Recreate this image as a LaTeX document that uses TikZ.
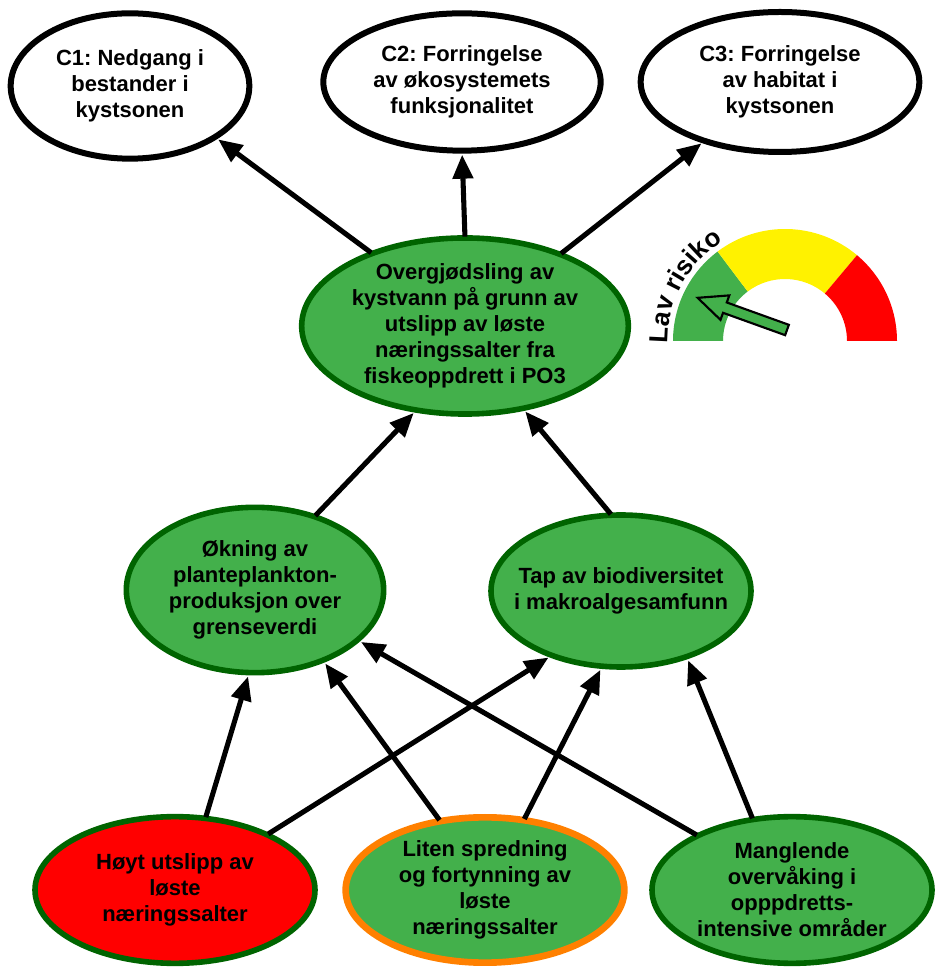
\documentclass[tikz,border=0pt]{standalone}
\usepackage{fontspec}
\setmainfont{Liberation Sans}
\usetikzlibrary{shapes.geometric,arrows.meta,decorations.text,calc}
\definecolor{ngreen}{RGB}{67,176,75}
\definecolor{dgreen}{RGB}{0,100,0}
\definecolor{nred}{RGB}{255,0,0}
\definecolor{norange}{RGB}{255,128,0}
\definecolor{gyellow}{RGB}{255,242,0}
\frenchspacing
\begin{document}
\begin{tikzpicture}[x=0.75pt,y=0.75pt,
  txt/.style={font=\fontsize{16.5}{19.5}\selectfont\bfseries, align=center},
  oval/.style={ellipse, txt, inner sep=0pt, outer sep=0pt, line width=4.2pt},
  topoval/.style={oval, draw=black, fill=white, line width=4.5pt},
  goval/.style={oval, draw=dgreen, fill=ngreen},
  arr/.style={line width=3.8pt, -{Triangle[length=18pt,width=15pt]}, shorten >=3pt, shorten <=1pt}]
\useasboundingbox (0,0) rectangle (940,979);

% top consequences
\node[topoval, minimum width=179pt, minimum height=109pt] (C1) at (130,893) {C1: Nedgang i\\bestander i\\kystsonen};
\node[topoval, minimum width=208pt, minimum height=103pt] (C2) at (462,897) {C2: Forringelse\\av økosystemets\\funksjonalitet};
\node[topoval, minimum width=209pt, minimum height=105pt] (C3) at (780,897) {C3: Forringelse\\av habitat i\\kystsonen};

% main event
\node[goval, minimum width=245pt, minimum height=122pt] (M) at (465,653) {Overgjødsling av\\kystvann på grunn av\\utslipp av løste\\næringssalter fra\\fiskeoppdrett i PO3};

% middle
\node[goval, minimum width=193pt, minimum height=124pt] (A) at (255,389) {Økning av\\planteplankton-\\produksjon over\\grenseverdi};
\node[goval, inner xsep=-12pt, minimum width=195pt, minimum height=114pt] (B) at (621,388) {Tap av biodiversitet\\i makroalgesamfunn};

% bottom causes
\node[oval, draw=dgreen, fill=nred, minimum width=210pt, minimum height=110pt] (D1) at (175,89) {Høyt utslipp av\\løste\\næringssalter};
\node[oval, draw=norange, fill=ngreen, line width=5pt, minimum width=209pt, minimum height=109pt] (D2) at (485,89) {Liten spredning\\og fortynning av\\løste\\næringssalter};
\node[goval, minimum width=210pt, minimum height=110pt] (D3) at (792,89) {Manglende\\overvåking i\\opppdretts-\\intensive områder};

% connectors
\draw[arr] (M.142.8) -- (C1.-31.4);
\draw[arr] (M.90) -- (C2.-90);
\draw[arr] (M.37.2) -- (C3.-142.9);
\draw[arr] (A.51.5) -- (M.-120.3);
\draw[arr] (B.97.4) -- (M.-55.3);
\draw[arr] (D1.67.1) -- (A.-94.4);
\draw[arr] (D1.31) -- (B.-137.2);
\draw[arr] (D2.123.7) -- (A.-46.6);
\draw[arr] (D2.61.9) -- (B.-104.4);
\draw[arr] (D3.150.4) -- (A.-26.1);
\draw[arr] (D3.119.2) -- (B.-45.4);

% risk gauge
\coordinate (G) at (785,638);
\fill[ngreen] ($(G)+(180:84pt)$) arc[start angle=180,end angle=127,radius=84pt] -- ($(G)+(127:46.5pt)$) arc[start angle=127,end angle=180,radius=46.5pt] -- cycle;
\fill[gyellow] ($(G)+(127:84pt)$) arc[start angle=127,end angle=50,radius=84pt] -- ($(G)+(50:46.5pt)$) arc[start angle=50,end angle=127,radius=46.5pt] -- cycle;
\fill[nred] ($(G)+(50:84pt)$) arc[start angle=50,end angle=0,radius=84pt] -- ($(G)+(0:46.5pt)$) arc[start angle=0,end angle=50,radius=46.5pt] -- cycle;
\begin{scope}[shift={(787,649)}, rotate=160.2]
\filldraw[fill=ngreen, draw=black, line width=1.6pt] (0,-5.5) -- (66,-5.5) -- (66,-13) -- (95,0) -- (66,13) -- (66,5.5) -- (0,5.5) -- cycle;
\end{scope}
\path[decorate, decoration={text along path, text align=left, text={|\fontsize{19.5}{19.5}\selectfont\bfseries|Lav risiko}}] ($(G)+(181:88pt)$) arc[start angle=181,end angle=110,radius=88pt];
\end{tikzpicture}
\end{document}
